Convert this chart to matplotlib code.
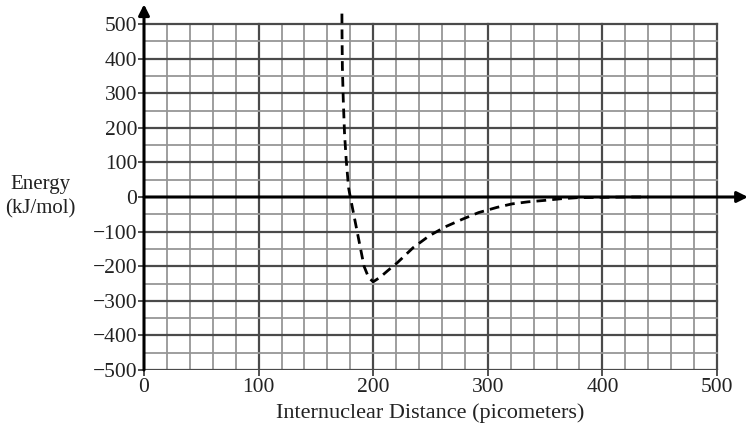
import numpy as np
import matplotlib
matplotlib.use("Agg")
import matplotlib.pyplot as plt

# potential energy curve (pm, kJ/mol)
distance = [172.7, 172.8, 173.1, 173.9, 175.0, 176.5, 178.5, 180.0, 183.0, 186.0,
            189.0, 192.0, 196.0, 200.0, 206.0, 213.0, 221.0, 235.0, 249.0, 263.0,
            278.0, 292.0, 308.0, 321.0, 335.0, 349.0, 364.0, 378.0, 400.0, 420.0, 440.0]
energy = [530, 472, 375, 279, 182, 105, 27, 0, -50, -100,
          -150, -200, -233, -245, -232, -212, -190, -146, -112, -86,
          -64, -45, -30, -20, -14, -10, -5, -2, -1, 0, 0]

x_ticks = [0, 100, 200, 300, 400, 500]
y_ticks = [-500, -400, -300, -200, -100, 0, 100, 200, 300, 400, 500]
x_grid = np.arange(0, 501, 20)
y_grid = np.arange(-500, 501, 50)

plt.rcParams['font.family'] = ['Liberation Serif', 'DejaVu Serif']

W, H = 755, 434
fig = plt.figure(figsize=(W / 100, H / 100), dpi=100)
fig.patch.set_facecolor('white')

x0, y0 = 144, 370          # pixel position of (0, -500)
px_x, px_y = 1.146, 0.346  # pixels per unit
xmax, ymax = 530, 560
ax = fig.add_axes([x0 / W, (H - y0) / H, xmax * px_x / W, (ymax + 500) * px_y / H])
ax.set_xlim(0, xmax)
ax.set_ylim(-500, ymax)

# grid paper
for gx in x_grid:
    if gx == 0:
        continue
    major = gx % 100 == 0
    ax.plot([gx, gx], [-500, 500], color='#4a4a4a' if major else '#969696',
            lw=1.6 if major else 1.3, zorder=1)
for gy in y_grid:
    if gy == 0:
        continue
    major = gy % 100 == 0
    ax.plot([0, 500], [gy, gy], color='#4a4a4a' if major else '#969696',
            lw=1.6 if major else 1.3, zorder=1)

for side in ['top', 'right', 'bottom', 'left']:
    ax.spines[side].set_visible(False)

# axes with arrows
ax.annotate('', xy=(527, 0), xytext=(0, 0), annotation_clip=False,
            arrowprops=dict(arrowstyle='-|>', lw=2.2, color='black',
                            mutation_scale=16, shrinkA=0, shrinkB=0), zorder=3)
ax.annotate('', xy=(0, 557), xytext=(0, -500), annotation_clip=False,
            arrowprops=dict(arrowstyle='-|>', lw=2.2, color='black',
                            mutation_scale=16, shrinkA=0, shrinkB=0), zorder=3)

ax.plot(distance, energy, color='black', lw=2.0, linestyle=(0, (3.5, 2.2)),
        zorder=4, clip_on=False)

ax.set_xticks(x_ticks)
ax.set_yticks(y_ticks)
ax.tick_params(axis='both', direction='out', length=4, width=1.2, color='#333333',
               labelsize=15.5, labelcolor='#222222')
ax.tick_params(axis='x', pad=2)
ax.tick_params(axis='y', pad=1)

fig.text(430 / W, 1 - 413 / H, 'Internuclear Distance (picometers)',
         ha='center', va='center', fontsize=16, color='#222222')
fig.text(40 / W, 1 - 197 / H, 'Energy\n(kJ/mol)', ha='center', va='center',
         fontsize=15, color='#222222', linespacing=1.35)

fig.savefig('out.png', dpi=100)
